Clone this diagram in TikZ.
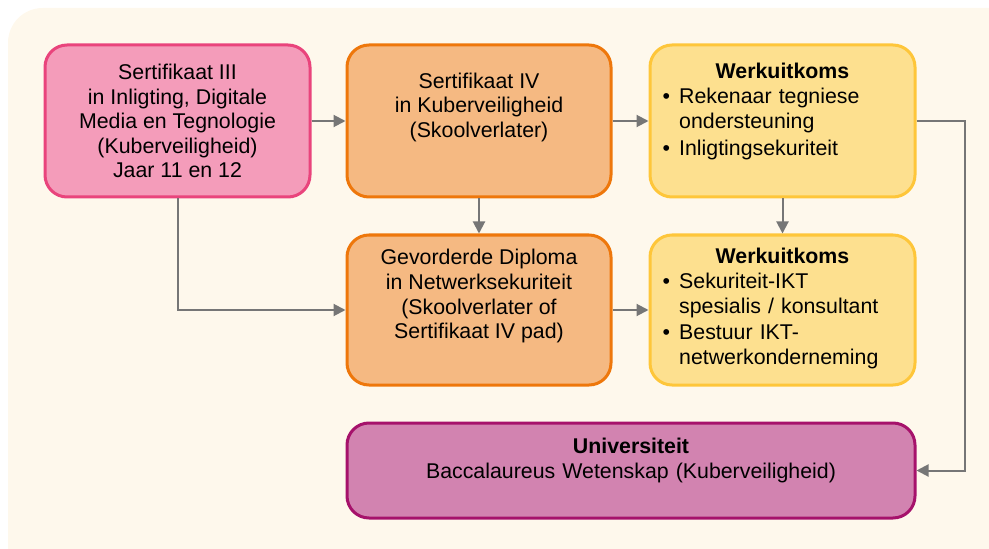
\documentclass[tikz,border=0pt]{standalone}
\usepackage{fontspec}
\setmainfont{Liberation Sans}
\usetikzlibrary{arrows.meta}
\definecolor{bgcol}{HTML}{FEF8EC}
\definecolor{pinkfill}{HTML}{F49CBA}
\definecolor{pinkline}{HTML}{E9447C}
\definecolor{orangefill}{HTML}{F5B982}
\definecolor{orangeline}{HTML}{EE770B}
\definecolor{yellowfill}{HTML}{FDE08F}
\definecolor{yellowline}{HTML}{FEC63A}
\definecolor{purplefill}{HTML}{D283B0}
\definecolor{purpleline}{HTML}{A6126B}
\definecolor{arrowgray}{HTML}{767676}
\newcommand{\bul}[1]{\par\noindent\makebox[12.5pt][l]{\textbullet}\begin{tabular}[t]{@{}l@{}}#1\end{tabular}\par}
\tikzset{
  box/.style={draw, line width=2.25pt, rounded corners=16.5pt, align=center,
    font=\fontsize{16}{18.4}\selectfont, inner sep=0pt},
  certbox/.style={box, fill=pinkfill, draw=pinkline, minimum width=198.75pt, minimum height=114pt},
  schoolbox/.style={box, fill=orangefill, draw=orangeline, minimum width=198pt},
  workbox/.style={box, fill=yellowfill, draw=yellowline, minimum width=198.75pt,
    text width=180pt, align=left, font=\fontsize{16}{18.75}\selectfont},
  unibox/.style={box, fill=purplefill, draw=purpleline, minimum width=426pt, minimum height=71.25pt,
    text width=420pt, font=\fontsize{16}{18.75}\selectfont},
  link/.style={draw=arrowgray, line width=1.5pt, -{Triangle[length=9pt,width=9pt]}}
}
\begin{document}
\begin{tikzpicture}[x=0.75pt,y=-0.75pt]
\useasboundingbox (0,0) rectangle (989,549);
\fill[bgcol, rounded corners=26pt] (8,8) rectangle (1040,600);
% boxes
\node[certbox] (cert3) at (177.5,121) {Sertifikaat III\\in Inligting, Digitale\\Media en Tegnologie\\(Kuberveiligheid)\\Jaar 11 en 12};
\node[schoolbox, minimum height=114pt] (cert4) at (479,121) {Sertifikaat IV\\in Kuberveiligheid\\(Skoolverlater)\\ \strut};
\node[workbox, minimum height=114pt] (work1) at (782.5,121) {{\centering\textbf{Werkuitkoms}\par}\bul{Rekenaar tegniese\\ondersteuning}\bul{Inligtingsekuriteit}\vspace{-7pt}\strut};
\node[schoolbox, minimum height=112.5pt] (diploma) at (479,310) {Gevorderde Diploma\\in Netwerksekuriteit\\(Skoolverlater of\\Sertifikaat IV pad)\\ \strut};
\node[workbox, minimum height=112.5pt] (work2) at (782.5,310) {{\centering\textbf{Werkuitkoms}\par}\bul{Sekuriteit-IKT\\spesialis / konsultant}\bul{Bestuur IKT-\\netwerkonderneming}};
\node[unibox] (uni) at (631,470.5) {\textbf{Universiteit}\\Baccalaureus Wetenskap (Kuberveiligheid)\par\vspace{-6pt}\strut};
% connectors
\draw[link] (cert3.east) -- (cert4.west);
\draw[link] (cert4.east) -- (work1.west);
\draw[link] (cert4.south) -- (diploma.north);
\draw[link] (work1.south) -- (work2.north);
\draw[link] (cert3.south) |- (diploma.west);
\draw[link] (diploma.east) -- (work2.west);
\draw[link] (work1.east) -- ++(48,0) |- (uni.east);
\end{tikzpicture}
\end{document}
